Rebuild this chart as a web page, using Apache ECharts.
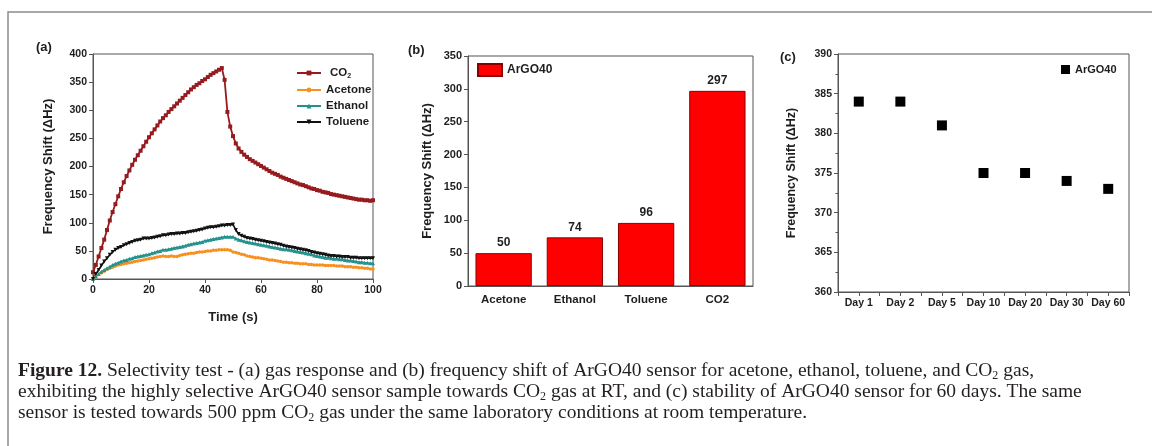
<!DOCTYPE html>
<html>
<head>
<meta charset="utf-8">
<script src="https://cdn.jsdelivr.net/npm/echarts@6/dist/echarts.min.js"></script>
<style>
  html, body { margin: 0; padding: 0; background: #ffffff; }
  #chart { width: 1152px; height: 446px; }
</style>
</head>
<body>
<div id="chart"></div>
<script>
// ---------- (a) gas response, one reading per second from 0 to 100 s ----------
const timeStep = 1; // seconds between readings
const co2Response = [
  12, 25, 40, 55, 70, 87, 104, 119, 133, 147,
  160, 172, 183, 193, 203, 212, 220, 228, 236, 244,
  252, 259, 266, 273, 280, 286, 291, 297, 302, 307,
  312, 317, 322, 327, 332, 337, 341, 345, 348, 352,
  355, 359, 363, 366, 369, 372, 375, 354, 297, 271,
  254, 241, 232, 226, 221, 217, 213, 210, 207, 204,
  201, 198, 195, 192, 189, 187, 185, 182, 180, 178,
  176, 174, 172, 170, 168, 167, 165, 163, 161, 160,
  158, 157, 155, 154, 153, 151, 150, 149, 148, 147,
  146, 145, 144, 143, 142, 141, 141, 140, 140, 139,
  140
];
const acetoneResponse = [
  0, 4, 8, 11, 14, 17, 19, 21, 23, 25,
  26, 27, 28, 29, 30, 31, 32, 33, 34, 35,
  36, 37, 38, 39, 40, 41, 40, 40, 41, 40,
  40, 42, 43, 44, 45, 46, 46, 47, 48, 48,
  49, 50, 50, 51, 51, 52, 52, 52, 52, 51,
  48, 47, 46, 44, 43, 41, 40, 39, 38, 38,
  37, 36, 35, 34, 34, 33, 32, 31, 30, 30,
  29, 29, 28, 28, 27, 27, 27, 26, 26, 25,
  25, 25, 25, 24, 24, 24, 24, 23, 23, 23,
  22, 22, 22, 21, 21, 20, 20, 19, 19, 18,
  18
];
const ethanolResponse = [
  0, 5, 9, 13, 16, 19, 22, 25, 27, 29,
  31, 33, 34, 36, 37, 39, 40, 41, 42, 43,
  44, 46, 47, 49, 50, 52, 52, 53, 54, 55,
  56, 57, 58, 59, 61, 62, 63, 64, 65, 66,
  68, 69, 70, 71, 72, 73, 74, 75, 75, 75,
  75, 72, 70, 69, 67, 66, 65, 64, 63, 62,
  61, 60, 59, 58, 57, 56, 55, 54, 53, 53,
  52, 51, 50, 49, 48, 47, 46, 45, 44, 42,
  41, 40, 39, 38, 38, 37, 36, 36, 35, 35,
  34, 33, 33, 32, 31, 30, 30, 29, 29, 28,
  28
];
const tolueneResponse = [
  0, 9, 16, 24, 31, 37, 43, 48, 52, 55,
  57, 60, 62, 64, 66, 68, 69, 70, 72, 72,
  72, 73, 74, 75, 76, 78, 78, 79, 80, 80,
  81, 81, 82, 82, 83, 84, 85, 86, 87, 88,
  90, 91, 92, 92, 93, 94, 95, 95, 96, 96,
  97, 87, 80, 77, 75, 73, 72, 71, 70, 69,
  68, 67, 66, 65, 64, 63, 62, 61, 59, 58,
  57, 56, 55, 54, 53, 52, 51, 50, 48, 47,
  46, 45, 44, 43, 42, 41, 41, 40, 40, 39,
  39, 39, 38, 38, 38, 37, 37, 37, 37, 37,
  37
];

// ---------- (b) frequency shift per gas ----------
const gases = ['Acetone', 'Ethanol', 'Toluene', 'CO2'];
const gasShift = [50, 74, 96, 297];

// ---------- (c) stability over 60 days ----------
const days = ['Day 1', 'Day 2', 'Day 5', 'Day 10', 'Day 20', 'Day 30', 'Day 60'];
const dayShift = [384, 384, 381, 375, 375, 374, 373];

// ---------- caption ----------
const captionLines = [
  '{b|Figure 12.} Selectivity test - (a) gas response and (b) frequency shift of ArGO40 sensor for acetone, ethanol, toluene, and CO{s|2} gas,',
  'exhibiting the highly selective ArGO40 sensor sample towards CO{s|2} gas at RT, and (c) stability of ArGO40 sensor for 60 days. The same',
  'sensor is tested towards 500 ppm CO{s|2} gas under the same laboratory conditions at room temperature.'
];

const sans = 'Liberation Sans, Arial, sans-serif';
const serif = 'Liberation Serif, Times New Roman, serif';
const axisColor = '#555555';
const labelColor = '#1e1e1e';
const captionSize = 19.5;

function toPoints(values) {
  return values.map((v, i) => [i * timeStep, v]);
}

function valueAxis(extra) {
  return Object.assign({
    type: 'value',
    axisLine: { show: true, lineStyle: { color: axisColor, width: 1 } },
    axisTick: { show: true, inside: false, length: 4, lineStyle: { color: axisColor } },
    splitLine: { show: false },
    axisLabel: { color: labelColor, fontFamily: sans, fontWeight: 'bold', fontSize: 10.5, margin: 6 },
    nameTextStyle: { color: labelColor, fontFamily: sans, fontWeight: 'bold', fontSize: 13 }
  }, extra);
}

const chart = echarts.init(document.getElementById('chart'), null, { renderer: 'canvas' });

const option = {
  backgroundColor: '#ffffff',
  animation: false,
  grid: [
    { left: 93, top: 54, width: 280, height: 225, show: true, borderColor: axisColor, borderWidth: 1 },
    { left: 468, top: 56, width: 285, height: 230, show: true, borderColor: axisColor, borderWidth: 1 },
    { left: 838, top: 54, width: 291, height: 238, show: true, borderColor: axisColor, borderWidth: 1 }
  ],
  legend: [
    {
      data: ['CO2', 'Acetone', 'Ethanol', 'Toluene'],
      orient: 'vertical', left: 296, top: 67, padding: 0,
      itemWidth: 24, itemHeight: 6, itemGap: 4,
      formatter: n => n === 'CO2' ? '{n|CO}{sub|2}' : n,
      textStyle: {
        color: labelColor, fontFamily: sans, fontWeight: 'bold', fontSize: 11.5,
        rich: {
          n: { color: labelColor, fontFamily: sans, fontWeight: 'bold', fontSize: 11.5, padding: [0, 0, 0, 4] },
          sub: { color: labelColor, fontFamily: sans, fontWeight: 'bold', fontSize: 7, padding: [7, 0, 0, 0] }
        }
      }
    },
    {
      data: ['ArGO40'],
      left: 477, top: 63, padding: 0, icon: 'rect',
      itemWidth: 24, itemHeight: 12,
      textStyle: { color: labelColor, fontFamily: sans, fontWeight: 'bold', fontSize: 12 }
    },
    {
      data: ['ArGO40 stability'],
      left: 1061, top: 64, padding: 0, icon: 'rect',
      itemWidth: 9, itemHeight: 9,
      formatter: () => 'ArGO40',
      textStyle: { color: labelColor, fontFamily: sans, fontWeight: 'bold', fontSize: 11 }
    }
  ],
  xAxis: [
    valueAxis({
      gridIndex: 0, min: 0, max: 100, interval: 20,
      name: 'Time (s)', nameLocation: 'middle', nameGap: 32
    }),
    {
      type: 'category', gridIndex: 1, data: gases,
      axisLine: { show: true, lineStyle: { color: axisColor } },
      axisTick: { show: false },
      axisLabel: { color: labelColor, fontFamily: sans, fontWeight: 'bold', fontSize: 11.5, margin: 8 }
    },
    valueAxis({
      gridIndex: 2, min: 0.5, max: 7.5, interval: 0.5,
      axisTick: { show: true, length: 4, lineStyle: { color: axisColor } },
      axisLabel: {
        color: labelColor, fontFamily: sans, fontWeight: 'bold', fontSize: 10.5, margin: 6,
        showMinLabel: true, showMaxLabel: true,
        formatter: v => Number.isInteger(v) ? days[v - 1] : ''
      }
    })
  ],
  yAxis: [
    valueAxis({
      gridIndex: 0, min: 0, max: 400, interval: 50,
      name: 'Frequency Shift (\u0394Hz)', nameLocation: 'middle', nameGap: 38
    }),
    valueAxis({
      gridIndex: 1, min: 0, max: 350, interval: 50,
      name: 'Frequency Shift (\u0394Hz)', nameLocation: 'middle', nameGap: 34,
      axisLabel: { color: labelColor, fontFamily: sans, fontWeight: 'bold', fontSize: 11, margin: 6 }
    }),
    valueAxis({
      gridIndex: 2, min: 360, max: 390, interval: 5,
      minorTick: { show: true, splitNumber: 2, length: 2.5, lineStyle: { color: axisColor } },
      name: 'Frequency Shift (\u0394Hz)', nameLocation: 'middle', nameGap: 40,
      nameTextStyle: { color: labelColor, fontFamily: sans, fontWeight: 'bold', fontSize: 12.5 }
    })
  ],
  series: [
    {
      name: 'CO2', type: 'line', xAxisIndex: 0, yAxisIndex: 0,
      data: toPoints(co2Response), showAllSymbol: true,
      symbol: 'rect', symbolSize: 4,
      itemStyle: { color: '#961a1e' }, lineStyle: { color: '#961a1e', width: 1.8 }
    },
    {
      name: 'Acetone', type: 'line', xAxisIndex: 0, yAxisIndex: 0,
      data: toPoints(acetoneResponse), showAllSymbol: true,
      symbol: 'circle', symbolSize: 3.5,
      itemStyle: { color: '#f7901e' }, lineStyle: { color: '#f7901e', width: 1.6 }
    },
    {
      name: 'Ethanol', type: 'line', xAxisIndex: 0, yAxisIndex: 0,
      data: toPoints(ethanolResponse), showAllSymbol: true,
      symbol: 'triangle', symbolSize: 4,
      itemStyle: { color: '#23918e' }, lineStyle: { color: '#23918e', width: 1.6 }
    },
    {
      name: 'Toluene', type: 'line', xAxisIndex: 0, yAxisIndex: 0,
      data: toPoints(tolueneResponse), showAllSymbol: true,
      symbol: 'triangle', symbolRotate: 180, symbolSize: 4,
      itemStyle: { color: '#111111' }, lineStyle: { color: '#111111', width: 1.6 }
    },
    {
      name: 'ArGO40', type: 'bar', xAxisIndex: 1, yAxisIndex: 1,
      data: gasShift, barCategoryGap: '21%',
      itemStyle: { color: '#ff0000', borderColor: '#8a0000', borderWidth: 1 },
      label: {
        show: true, position: 'top', distance: 4,
        color: labelColor, fontFamily: sans, fontWeight: 'bold', fontSize: 12
      }
    },
    {
      name: 'ArGO40 stability', type: 'scatter', xAxisIndex: 2, yAxisIndex: 2,
      data: dayShift.map((v, i) => [i + 1, v]),
      symbol: 'rect', symbolSize: 10,
      itemStyle: { color: '#000000', opacity: 1 }
    }
  ],
  graphic: [
    // figure frame
    {
      type: 'polyline', silent: true,
      shape: { points: [[8, 446], [8, 12], [1152, 12]] },
      style: { stroke: '#8c8c8c', lineWidth: 1.5, fill: null }
    },
    // panel letters
    { type: 'text', x: 36, y: 47, style: { text: '(a)', fill: labelColor, font: 'bold 13px ' + sans, verticalAlign: 'middle' } },
    { type: 'text', x: 408, y: 50, style: { text: '(b)', fill: labelColor, font: 'bold 13px ' + sans, verticalAlign: 'middle' } },
    { type: 'text', x: 780, y: 57, style: { text: '(c)', fill: labelColor, font: 'bold 13px ' + sans, verticalAlign: 'middle' } }
  ].concat(captionLines.map((line, i) => ({
    type: 'text', x: 18, y: 371 + i * 21,
    style: {
      text: line, fill: '#231f20', fontFamily: serif, fontSize: captionSize,
      verticalAlign: 'middle',
      rich: {
        b: { fontFamily: serif, fontSize: captionSize, fontWeight: 'bold', fill: '#231f20' },
        s: { fontFamily: serif, fontSize: 12, fill: '#231f20', padding: [10, 0, 0, 0] }
      }
    }
  })))
};

chart.setOption(option);
</script>
</body>
</html>
